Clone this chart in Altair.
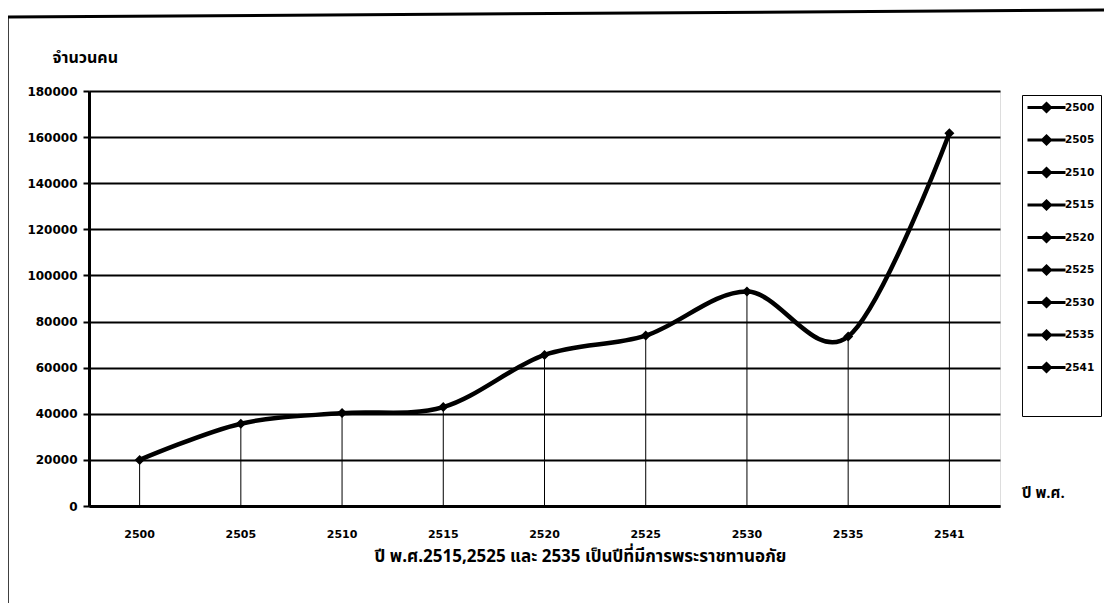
import altair as alt
import pandas as pd

years = ["2500", "2505", "2510", "2515", "2520", "2525", "2530", "2535", "2541"]
people = [20000, 35700, 40300, 42900, 65500, 73900, 93000, 73500, 161700]
y_ticks = [0, 20000, 40000, 60000, 80000, 100000, 120000, 140000, 160000, 180000]
y_title = "จำนวนคน"
x_unit = "ปี พ.ศ."
caption = "ปี พ.ศ.2515,2525 และ 2535 เป็นปีที่มีการพระราชทานอภัย"

df = pd.DataFrame({"year": years, "people": people})

FONT = "DejaVu Sans"
THAI = "Noto Sans Thai, Noto Sans, DejaVu Sans"

x_enc = alt.X(
    "year:N", sort=years,
    axis=alt.Axis(
        labelAngle=0, labelPadding=22, labelFont=FONT, labelFontSize=11,
        labelFontWeight="bold", labelColor="black", ticks=False, grid=False,
        domainColor="black", domainWidth=3,
        title=caption, titleX=491, titleY=50, titleAlign="center",
        titleBaseline="middle", titleFont=THAI, titleFontSize=17,
        titleFontWeight="bold", titleColor="black",
    ),
)
y_enc = alt.Y(
    "people:Q",
    scale=alt.Scale(domain=[0, 180000], nice=False),
    axis=alt.Axis(
        values=y_ticks, format="d", grid=True, gridColor="black", gridWidth=2,
        domainColor="black", domainWidth=3, tickColor="black", tickWidth=2,
        tickSize=6, labelFont=FONT, labelFontSize=12, labelFontWeight="bold",
        labelColor="black", labelPadding=6,
        title=y_title, titleAngle=0, titleX=-37, titleY=-34, titleAlign="left",
        titleBaseline="middle", titleFont=THAI, titleFontSize=16,
        titleFontWeight="bold", titleColor="black",
    ),
)

drops = alt.Chart(df).mark_rule(color="black", strokeWidth=1).encode(
    x=x_enc, y=y_enc, y2=alt.datum(0)
)
line = alt.Chart(df).mark_line(
    interpolate="cardinal", tension=0, color="black", strokeWidth=4.5
).encode(x=alt.X("year:N", sort=years), y="people:Q")

legend_symbol = "M-3.8,0H3.8M0,-0.8L0.8,0L0,0.8L-0.8,0Z"
points = alt.Chart(df).mark_point(
    shape="diamond", filled=True, size=100, opacity=1
).encode(
    x=alt.X("year:N", sort=years),
    y="people:Q",
    color=alt.Color(
        "year:N", sort=years,
        scale=alt.Scale(domain=years, range=["#000000"] * len(years)),
        legend=alt.Legend(
            title=" ", titleOrient="bottom", titleFontSize=28, titlePadding=4,
            orient="none", legendX=933, legendY=4,
            direction="vertical", symbolType=legend_symbol, symbolSize=100,
            symbolStrokeWidth=3, symbolStrokeColor="black",
            symbolFillColor="black", symbolOpacity=1, symbolOffset=12,
            labelOffset=12, labelFont=FONT, labelFontSize=10.5,
            labelFontWeight="bold", labelColor="black", rowPadding=11.5,
            padding=6, strokeColor="black", fillColor="white",
        ),
    ),
)

one_row = alt.Data(values=[{"k": 1}])
unit_text = alt.Chart(one_row).mark_text(
    text=x_unit, font=THAI, fontSize=15, fontWeight="bold", color="black",
    align="left", baseline="middle",
).encode(x=alt.value(933), y=alt.value(402))
frame_left = alt.Chart(one_row).mark_rule(color="black", strokeWidth=1.5).encode(
    x=alt.value(-81), x2=alt.value(-81), y=alt.value(-74), y2=alt.value(520)
)
frame_top = alt.Chart(one_row).mark_rule(color="black", strokeWidth=3).encode(
    x=alt.value(-81), x2=alt.value(1015), y=alt.value(-74), y2=alt.value(-81)
)

chart = alt.layer(drops, line, points, unit_text, frame_left, frame_top).properties(
    width=911, height=415,
    autosize=alt.AutoSizeParams(type="none"),
    padding={"left": 81, "top": 83, "right": 104, "bottom": 97},
).configure_view(stroke="black", strokeWidth=3).configure(background="white")

chart.save("out.html", embed_options={"renderer": "svg", "actions": False})
